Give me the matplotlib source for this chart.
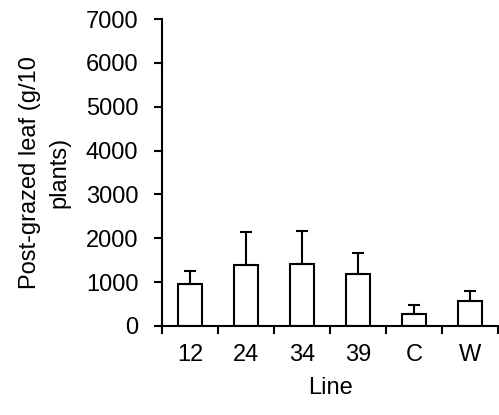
import matplotlib
matplotlib.use("Agg")
import matplotlib.pyplot as plt
import numpy as np
from matplotlib.ticker import FixedLocator

# Dados
linhas = ["12", "24", "34", "39", "C", "W"]
medias = [968, 1380, 1419, 1174, 282, 565]
erros = [297, 771, 748, 490, 198, 236]
y_ticks = [0, 1000, 2000, 3000, 4000, 5000, 6000, 7000]

plt.rcParams["font.family"] = ["Liberation Sans", "DejaVu Sans"]
fs = 17

fig = plt.figure(figsize=(4.99, 4.15), dpi=100)
ax = fig.add_axes([0.3247, 0.2145, 0.6733, 0.7397])

x = np.arange(len(linhas))
ax.bar(x, medias, width=0.42, color="white", edgecolor="black", linewidth=1.5,
       yerr=[np.zeros(len(erros)), erros],
       error_kw=dict(ecolor="black", elinewidth=1.5, capsize=4, capthick=1.5))

ax.set_xlim(-0.5, len(linhas) - 0.5)
ax.set_ylim(0, 7000)
ax.set_yticks(y_ticks)

# Rótulos no centro, ticks nas fronteiras
ax.set_xticks(x)
ax.set_xticklabels(linhas)
ax.tick_params(axis="x", which="major", length=0, pad=13, labelsize=fs)
ax.xaxis.set_minor_locator(FixedLocator(np.arange(-0.5, len(linhas), 1.0)))
ax.tick_params(axis="x", which="minor", length=5.5, width=1.5, direction="out")
ax.tick_params(axis="y", length=6, width=1.5, direction="out", labelsize=fs, pad=11)

for s in ["top", "right"]:
    ax.spines[s].set_visible(False)
for s in ["left", "bottom"]:
    ax.spines[s].set_linewidth(1.5)

ax.set_xlabel("Line", fontsize=fs, labelpad=8)
ax.set_ylabel("Post-grazed leaf (g/10\nplants)", fontsize=fs, labelpad=11,
              linespacing=1.45)

fig.savefig("out.png", dpi=100)
